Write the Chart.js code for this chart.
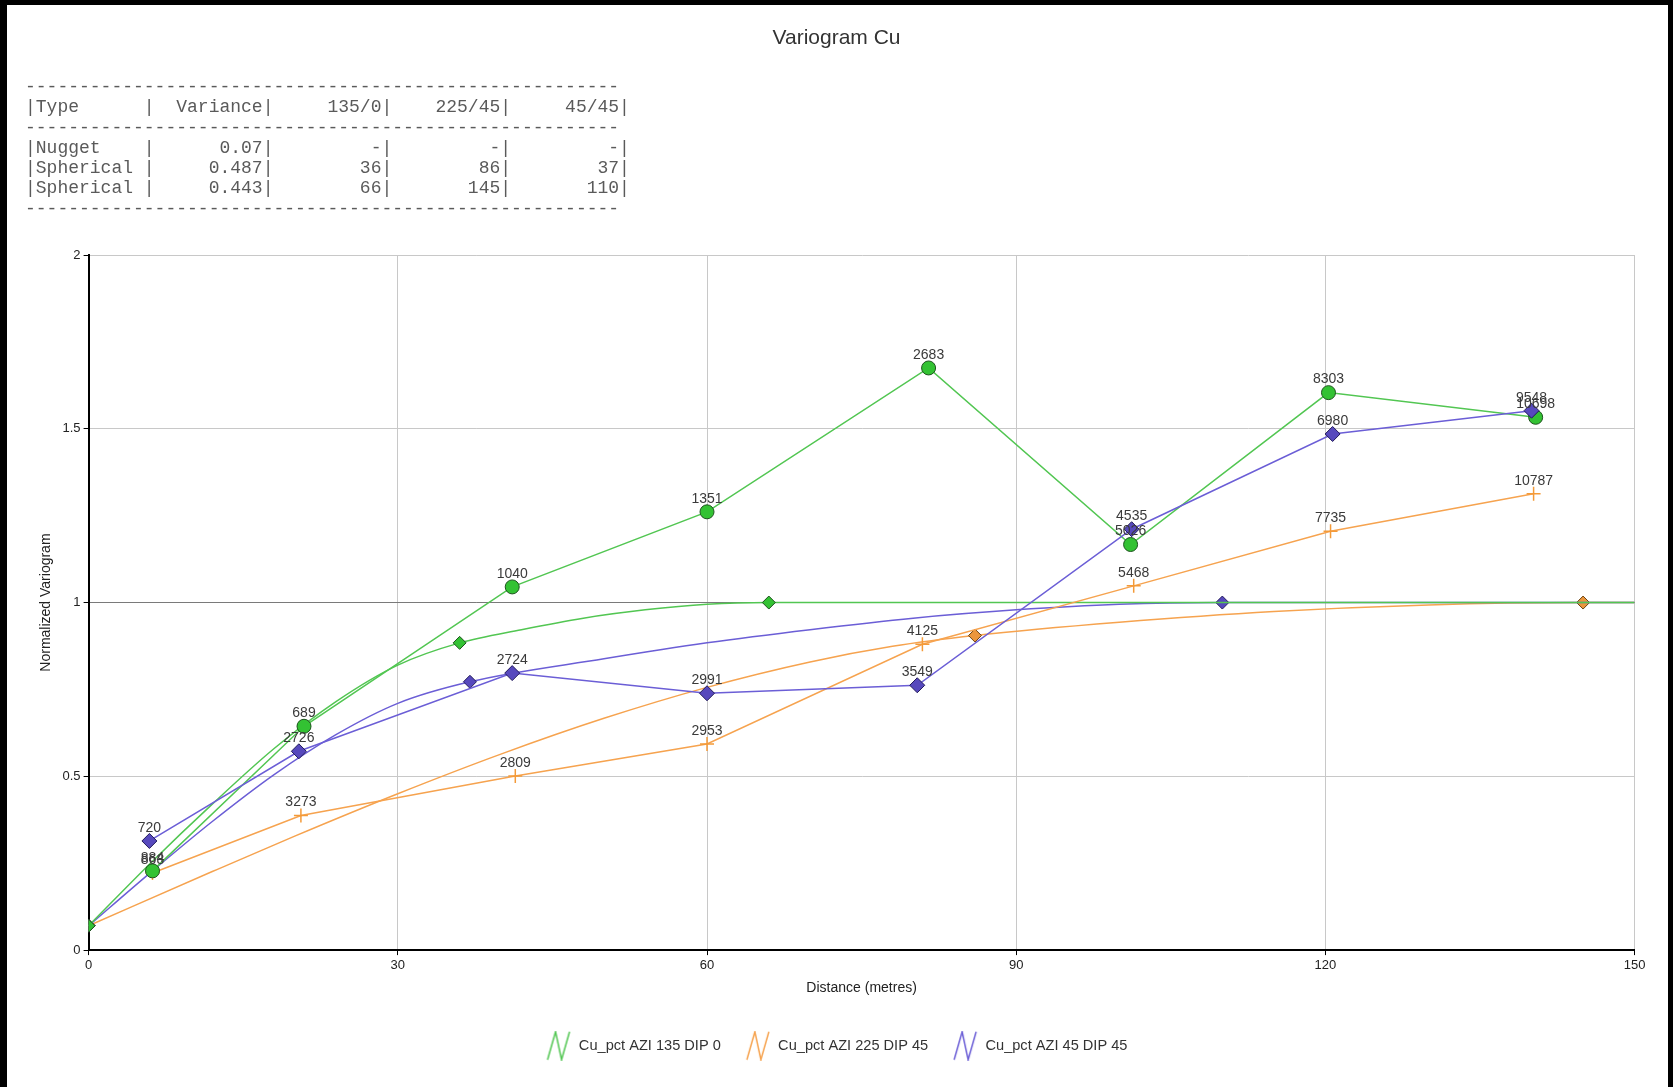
<!DOCTYPE html>
<html><head><meta charset="utf-8">
<script src="https://cdn.jsdelivr.net/npm/chart.js@4"></script>
<style>
html,body{margin:0;padding:0;background:#fff;}
#wrap{position:relative;width:1673px;height:1087px;overflow:hidden;background:#fff;}
#c{position:absolute;left:0;top:0;width:1673px;height:1087px;}
#tbl{position:absolute;left:25px;top:77px;margin:0;font-family:'Liberation Mono','Courier New',monospace;font-size:18px;line-height:20.25px;color:#5a5a5a;white-space:pre;}
#frame{position:absolute;left:0;top:0;width:1673px;height:1087px;box-sizing:border-box;border-left:7px solid #000;border-top:5px solid #000;border-right:5px solid #000;pointer-events:none;}
</style></head>
<body><div id="wrap"><canvas id="c" width="1673" height="1087"></canvas><pre id="tbl"></pre><div id="frame"></div></div>
<script>
// ---- table (model parameters) ----
const tableHeader = ['Type', 'Variance', '135/0', '225/45', '45/45'];
const structTypes = ['Nugget', 'Spherical', 'Spherical'];
const structVariance = ['0.07', '0.487', '0.443'];
const rangeDir135 = ['-', '36', '66'];
const rangeDir225 = ['-', '86', '145'];
const rangeDir45  = ['-', '37', '110'];

// ---- series names ----
const directions = ['Cu_pct AZI 135 DIP 0', 'Cu_pct AZI 225 DIP 45', 'Cu_pct AZI 45 DIP 45'];

// ---- experimental variograms (lag distance, normalized gamma, pair counts) ----
const lagGreen   = [6.2, 20.9, 41.1, 60.0, 81.5, 101.1, 120.3, 140.4];
const gammaGreen = [0.228, 0.644, 1.045, 1.261, 1.675, 1.167, 1.604, 1.533];
const pairsGreen = [884, 689, 1040, 1351, 2683, 5026, 8303, 10698];

const lagOrange   = [6.2, 20.6, 41.4, 60.0, 80.9, 101.4, 120.5, 140.2];
const gammaOrange = [0.222, 0.387, 0.501, 0.593, 0.880, 1.048, 1.205, 1.313];
const pairsOrange = [868, 3273, 2809, 2953, 4125, 5468, 7735, 10787];

const lagBlue   = [5.9, 20.4, 41.1, 60.0, 80.4, 101.2, 120.7, 140.0];
const gammaBlue = [0.314, 0.572, 0.797, 0.739, 0.762, 1.211, 1.485, 1.552];
const pairsBlue = [720, 2726, 2724, 2991, 3549, 4535, 6980, 9548];

// ---- fitted models ----
const modelGreenX = [0, 6, 12, 18, 24, 30, 36, 42, 48, 54, 60, 66, 150];
const modelGreenY = [0.07, 0.25, 0.42, 0.58, 0.715, 0.82, 0.884, 0.922, 0.955, 0.979, 0.995, 1.0, 1.0];
const modelBlueX = [0, 6, 12, 18, 24, 30, 37, 50, 60, 70, 80, 90, 100, 110, 150];
const modelBlueY = [0.07, 0.223, 0.37, 0.505, 0.62, 0.71, 0.772, 0.838, 0.884, 0.922, 0.955, 0.979, 0.995, 1.0, 1.0];
const modelOrangeX = [0, 12, 20, 30, 40, 50, 60, 70, 78, 86, 100, 115, 130, 145, 150];
const modelOrangeY = [0.07, 0.226, 0.328, 0.45, 0.564, 0.667, 0.756, 0.829, 0.874, 0.905, 0.943, 0.974, 0.993, 1.0, 1.0];

// ---- axis ticks ----
const xTicks = [0, 30, 60, 90, 120, 150];
const yTicks = [0, 0.5, 1, 1.5, 2];
const yTickLabels = ['0', '0.5', '1', '1.5', '2'];

// ---- build table text ----
(function () {
  const dash = '-'.repeat(55);
  const row = cells => '|' + cells[0].padEnd(10) + cells.slice(1).map(c => '|' + c.padStart(10)).join('') + '|';
  const lines = [dash, row(tableHeader), dash];
  structTypes.forEach((t, i) => lines.push(row([t, structVariance[i], rangeDir135[i], rangeDir225[i], rangeDir45[i]])));
  lines.push(dash);
  document.getElementById('tbl').textContent = lines.join('\n');
})();

const FONT = "'Liberation Sans', Arial, sans-serif";
const C = {
  gLine: '#52c652', gFill: '#33c233', gEdge: '#1d521d',
  oLine: '#f6a34f', oMark: '#f49a38', oFill: '#eb963c', oEdge: '#6a4312',
  bLine: '#6b5ed6', bFill: '#5749bd', bEdge: '#221b5a'
};
const xy = (xs, ys) => xs.map((x, i) => ({x: x, y: ys[i]}));
const markAt = ranges => ctx => (ctx.raw && (ctx.raw.x === 0 || ranges.indexOf(ctx.raw.x) >= 0)) ? 6.5 : 0;

function zigzag(color) {
  const c = document.createElement('canvas');
  c.width = 26; c.height = 30;
  const g = c.getContext('2d');
  g.strokeStyle = color; g.lineWidth = 1.5;
  g.beginPath(); g.moveTo(2, 29); g.lineTo(10, 1); g.lineTo(16, 29); g.lineTo(24, 1); g.stroke();
  return c;
}

const datasets = [
  {label: directions[2], data: xy(lagBlue, gammaBlue), pairs: pairsBlue, showLine: true,
   borderColor: C.bLine, borderWidth: 1.5, pointStyle: 'rectRot', pointRadius: 7.5,
   pointBackgroundColor: C.bFill, pointBorderColor: C.bEdge, pointBorderWidth: 1},
  {label: directions[0], data: xy(lagGreen, gammaGreen), pairs: pairsGreen, showLine: true,
   borderColor: C.gLine, borderWidth: 1.5, pointStyle: 'circle', pointRadius: 7,
   pointBackgroundColor: C.gFill, pointBorderColor: C.gEdge, pointBorderWidth: 1},
  {label: directions[1], data: xy(lagOrange, gammaOrange), pairs: pairsOrange, showLine: true,
   borderColor: C.oLine, borderWidth: 1.5, pointStyle: 'cross', pointRadius: 7,
   pointBackgroundColor: C.oMark, pointBorderColor: C.oMark, pointBorderWidth: 1.5},
  {label: 'model 135/0', data: xy(modelGreenX, modelGreenY), showLine: true, cubicInterpolationMode: 'monotone',
   borderColor: C.gLine, borderWidth: 1.5, pointStyle: 'rectRot', pointRadius: markAt([+rangeDir135[1], +rangeDir135[2]]),
   pointBackgroundColor: C.gFill, pointBorderColor: C.gEdge, pointBorderWidth: 1},
  {label: 'model 45/45', data: xy(modelBlueX, modelBlueY), showLine: true, cubicInterpolationMode: 'monotone',
   borderColor: C.bLine, borderWidth: 1.5, pointStyle: 'rectRot', pointRadius: markAt([+rangeDir45[1], +rangeDir45[2]]),
   pointBackgroundColor: C.bFill, pointBorderColor: C.bEdge, pointBorderWidth: 1},
  {label: 'model 225/45', data: xy(modelOrangeX, modelOrangeY), showLine: true, cubicInterpolationMode: 'monotone',
   borderColor: C.oLine, borderWidth: 1.5, pointStyle: 'rectRot', pointRadius: markAt([+rangeDir225[1], +rangeDir225[2]]),
   pointBackgroundColor: C.oFill, pointBorderColor: C.oEdge, pointBorderWidth: 1}
];
const legendOrder = [1, 2, 0];
const icons = {0: zigzag(C.bLine), 1: zigzag(C.gLine), 2: zigzag(C.oLine)};

const pairLabels = {
  id: 'pairLabels',
  afterDatasetsDraw(chart) {
    const ctx = chart.ctx;
    ctx.save();
    ctx.font = '14px ' + FONT;
    ctx.fillStyle = '#3a3a3a';
    ctx.textAlign = 'center';
    ctx.textBaseline = 'middle';
    chart.data.datasets.forEach((ds, i) => {
      if (!ds.pairs) return;
      chart.getDatasetMeta(i).data.forEach((pt, j) => ctx.fillText(String(ds.pairs[j]), pt.x, pt.y - 13));
    });
    ctx.restore();
  }
};

new Chart(document.getElementById('c'), {
  type: 'scatter',
  data: {datasets: datasets},
  plugins: [pairLabels],
  options: {
    responsive: false,
    animation: false,
    devicePixelRatio: 1,
    layout: {padding: {left: 0, right: 0, top: 0, bottom: 24}},
    plugins: {
      title: {display: true, text: 'Variogram Cu', color: '#333', font: {family: FONT, size: 21, weight: 'normal'},
              padding: {top: 26, bottom: 203.8}},
      legend: {
        position: 'bottom',
        labels: {
          usePointStyle: true, pointStyleWidth: 26, padding: 24, color: '#333',
          font: {family: FONT, size: 14.6},
          generateLabels: chart => legendOrder.map(i => ({
            text: chart.data.datasets[i].label, pointStyle: icons[i], datasetIndex: i, hidden: false,
            lineWidth: 0, strokeStyle: 'rgba(0,0,0,0)', fillStyle: 'rgba(0,0,0,0)', fontColor: '#333'
          }))
        }
      },
      tooltip: {enabled: false}
    },
    scales: {
      x: {
        type: 'linear', min: xTicks[0], max: xTicks[xTicks.length - 1],
        afterBuildTicks: s => { s.ticks = xTicks.map(v => ({value: v})); },
        afterFit: s => { s.height = 64.3; },
        grid: {color: '#c8c8c8', lineWidth: 1, tickLength: 5, tickColor: '#000'},
        border: {color: '#000', width: 2},
        ticks: {color: '#222', font: {family: FONT, size: 13}, padding: 3, maxRotation: 0},
        title: {display: true, text: 'Distance (metres)', color: '#222', font: {family: FONT, size: 14}, padding: {top: 0, bottom: 17.6}}
      },
      y: {
        type: 'linear', min: yTicks[0], max: yTicks[yTicks.length - 1],
        afterBuildTicks: s => { s.ticks = yTicks.map(v => ({value: v})); },
        afterFit: s => { s.width = 88.6; },
        grid: {color: ctx => (ctx.tick && ctx.tick.value === 1) ? '#7a7a7a' : '#c8c8c8', lineWidth: 1, tickLength: 5, tickColor: '#000'},
        border: {color: '#000', width: 2},
        ticks: {color: '#222', font: {family: FONT, size: 13}, padding: 3,
                callback: v => { const k = yTicks.indexOf(v); return k >= 0 ? yTickLabels[k] : ''; }},
        title: {display: true, text: 'Normalized Variogram', color: '#222', font: {family: FONT, size: 14}, padding: {top: 37.6, bottom: 0}}
      },
      y2: {
        position: 'right', display: true,
        grid: {display: false, drawTicks: false}, border: {display: false}, ticks: {display: false},
        afterFit: s => { s.width = 38.4; }
      }
    }
  }
});
</script>
</body></html>
